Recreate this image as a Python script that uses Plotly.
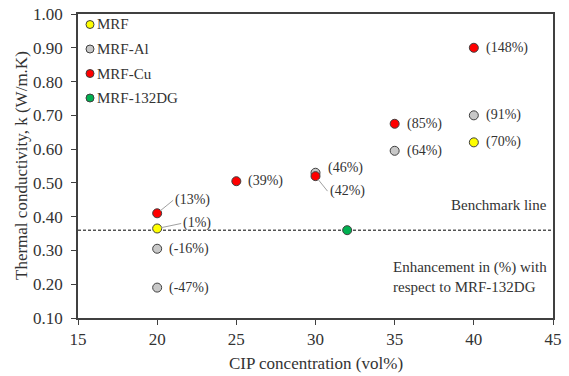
import plotly.graph_objects as go

# ---- data ----
mrf_x = [20, 40]
mrf_y = [0.365, 0.62]
mrf_lbl = ["(1%)", "(70%)"]

al_x = [20, 20, 30, 35, 40]
al_y = [0.305, 0.19, 0.53, 0.595, 0.70]
al_lbl = ["(-16%)", "(-47%)", "(46%)", "(64%)", "(91%)"]

cu_x = [20, 25, 30, 35, 40]
cu_y = [0.41, 0.505, 0.52, 0.675, 0.90]
cu_lbl = ["(13%)", "(39%)", "(42%)", "(85%)", "(148%)"]

dg_x = [32]
dg_y = [0.36]

benchmark = 0.36

x_title = "CIP concentration (vol%)"
y_title = "Thermal conductivity, k (W/m.K)"

FONT = "Liberation Serif, Times New Roman, serif"
TXT = "#333333"

W, H = 569, 376
ML, MR, MT, MB = 78, 16, 14, 58
PW, PH = W - ML - MR, H - MT - MB

fig = go.Figure()

series = [
    ("MRF", mrf_x, mrf_y, "#FFFF00"),
    ("MRF-Al", al_x, al_y, "#C8C8C8"),
    ("MRF-Cu", cu_x, cu_y, "#FF0000"),
    ("MRF-132DG", dg_x, dg_y, "#00B050"),
]
for name, xs, ys, col in series:
    fig.add_trace(go.Scatter(
        x=xs, y=ys, mode="markers", name=name, showlegend=False,
        marker=dict(size=9, color=col, line=dict(color="#404040", width=1)),
    ))

# manual legend (compact symbol/text spacing)
leg_x = (90 - ML) / PW
for i, (name, xs, ys, col) in enumerate(series):
    py = 24.5 + i * 24.5
    leg_y = 1 - (py - MT) / PH
    fig.add_shape(type="circle", xref="paper", yref="paper",
                  xsizemode="pixel", ysizemode="pixel",
                  xanchor=leg_x, yanchor=leg_y, x0=-4, x1=4, y0=-4, y1=4,
                  fillcolor=col, line=dict(color="#404040", width=1))
    fig.add_annotation(x=leg_x, y=leg_y, xref="paper", yref="paper", text=name,
                       showarrow=False, xanchor="left", yanchor="middle", xshift=5,
                       font=dict(family=FONT, size=15, color=TXT))

# benchmark line
fig.add_hline(y=benchmark, line=dict(color="#000000", width=1, dash="3px,2px"), layer="below")

plain = []
for xs, ys, lbls in [(mrf_x, mrf_y, mrf_lbl), (al_x, al_y, al_lbl), (cu_x, cu_y, cu_lbl)]:
    for x, y, t in zip(xs, ys, lbls):
        plain.append((x, y, t))

leader = {"(13%)": (16, -13), "(1%)": (24, -5), "(42%)": (12, 15)}
yshift = {"(46%)": 5}

for x, y, t in plain:
    if t in leader:
        ax, ay = leader[t]
        fig.add_annotation(x=x, y=y, text=t, showarrow=True, arrowhead=0,
                           arrowcolor="#A0A0A0", arrowwidth=1, ax=ax, ay=ay,
                           xanchor="left", standoff=4,
                           font=dict(family=FONT, size=14, color=TXT))
    else:
        fig.add_annotation(x=x, y=y, text=t, showarrow=False, xanchor="left",
                           xshift=10, yshift=yshift.get(t, 0),
                           font=dict(family=FONT, size=14, color=TXT))

fig.add_annotation(x=1.0, xref="paper", y=0.435, text="Benchmark line", showarrow=False,
                   xanchor="right", xshift=-4, font=dict(family=FONT, size=15, color=TXT))
fig.add_annotation(x=1.0, xref="paper", y=0.22,
                   text="Enhancement in (%) with<br>respect to MRF-132DG", showarrow=False,
                   xanchor="right", xshift=-4, align="left",
                   font=dict(family=FONT, size=15, color=TXT))

# axis titles
fig.add_annotation(x=0.5, y=0, xref="paper", yref="paper", text=x_title, showarrow=False,
                   xanchor="center", yanchor="middle", yshift=-45,
                   font=dict(family=FONT, size=17, color=TXT))
fig.add_annotation(x=0, y=0.5, xref="paper", yref="paper", text=y_title, showarrow=False,
                   textangle=-90, xanchor="center", yanchor="middle", xshift=-57,
                   font=dict(family=FONT, size=17, color=TXT))

axis_common = dict(showgrid=False, zeroline=False, showline=True, linecolor="#404040",
                   linewidth=1.5, mirror=True, ticks="outside", ticklen=5,
                   tickcolor="#404040", tickfont=dict(family=FONT, size=17, color=TXT),
                   automargin=False)

fig.update_xaxes(range=[15, 45], dtick=5, tick0=15, **axis_common)
fig.update_yaxes(range=[0.1, 1.0], dtick=0.1, tick0=0.1, tickformat=".2f",
                 ticklabelstandoff=5, **axis_common)

fig.update_layout(
    width=W, height=H,
    margin=dict(l=ML, r=MR, t=MT, b=MB, pad=0),
    plot_bgcolor="white", paper_bgcolor="white",
    showlegend=False,
)

fig.write_html("out.html")
